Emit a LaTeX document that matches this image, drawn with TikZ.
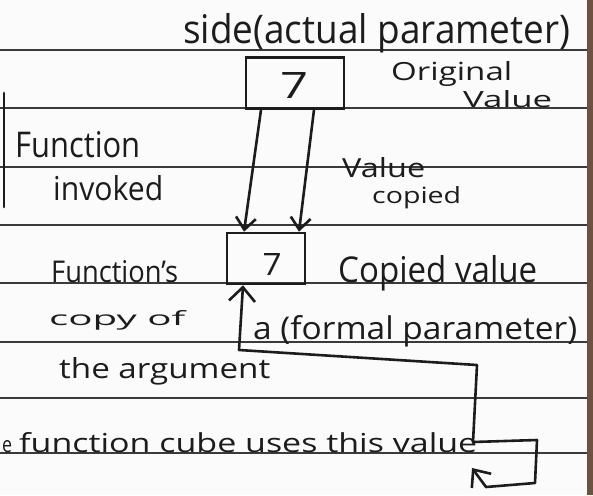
\documentclass[tikz,border=0pt]{standalone}
\usepackage{fontspec}
\setmainfont{Open Sans}
\usepackage{graphicx}
\usetikzlibrary{arrows.meta}
\definecolor{ink}{HTML}{1C1C1C}
\definecolor{rule}{HTML}{3A3A3A}
\definecolor{paper}{HTML}{FBFBFB}
\definecolor{edge}{HTML}{6E5240}
\newcommand{\hw}[3]{\resizebox{#1pt}{#2pt}{#3}}
\tikzset{
  ruled/.style={draw=rule, line width=1.6pt},
  inkline/.style={draw=ink, line width=2.6pt, line join=round, line cap=round},
  valbox/.style={draw=ink, line width=2.6pt, inner sep=0pt},
  note/.style={inner sep=0pt, anchor=base west, text=ink},
  numtxt/.style={inner sep=0pt, text=ink},
  barb/.style={-{Straight Barb[length=12pt,width=20pt]}},
  barbs/.style={{Straight Barb[length=14pt,width=26pt]}-{Straight Barb[length=14pt,width=24pt]}}
}
\begin{document}
\begin{tikzpicture}[x=1pt,y=-1pt]
\useasboundingbox (0,0) rectangle (593,495);
\fill[paper] (0,0) rectangle (593,495);
\fill[edge] (587,0) rectangle (593,495);
% ruled lines
\foreach \yy in {50,108,167,225,283,342,398,453}
  \draw[ruled] (0,\yy) -- (587,\yy);
% partial box edge at left
\draw[inkline] (4,93) -- (4,207);
% boxes
\node[valbox, minimum width=98pt, minimum height=51pt] (b1) at (295,83) {};
\node[valbox, minimum width=78pt, minimum height=51pt] (b2) at (266,258.5) {};
\node[numtxt] (n1) at (294,85) {\hw{28}{26}{7}};
\node[numtxt] (n2) at (272,264) {\hw{19}{22}{7}};
% copy arrows
\draw[inkline, barb] ([xshift=-34pt]b1.south) -- ([xshift=-22pt]b2.north);
\draw[inkline, barb] ([xshift=19pt]b1.south) -- ([xshift=33pt]b2.north);
% use path
\coordinate (tip) at (472,468);
\draw[inkline, barbs] ([xshift=-23pt]b2.south) -- (239,350) -- (477,365) -- (473,442) -- (537,440) -- (535,483) -- (486,487) -- (tip);
% texts
\node[note] (t1) at (183,43) {\hw{387}{30}{side(actual parameter)}};
\node[note] (t2) at (391,80) {\hw{121}{19}{Original}};
\node[note] (t3) at (463,107) {\hw{89}{17}{Value}};
\node[note] (t4) at (15,157) {\hw{125}{26}{Function}};
\node[note] (t5) at (53,200) {\hw{110}{25}{invoked}};
\node[note] (t6) at (342,177) {\hw{83}{20}{Value}};
\node[note] (t7) at (372,203) {\hw{89}{17}{copied}};
\node[note] (t8) at (338,282) {\hw{199}{27}{Copied value}};
\node[note] (t9) at (51,282) {\hw{127}{22}{Function's}};
\node[note] (t10) at (49,325) {\hw{136}{15}{copy of}};
\node[note] (t11) at (253,339) {\hw{324}{24}{a (formal parameter)}};
\node[note] (t12) at (59,378) {\hw{211}{21}{the argument}};
\node[note] (t13) at (19,452) {\hw{458}{20}{function cube uses this value}};
\node[note] (t14) at (2,452) {\hw{10}{12}{e}};
\end{tikzpicture}
\end{document}
